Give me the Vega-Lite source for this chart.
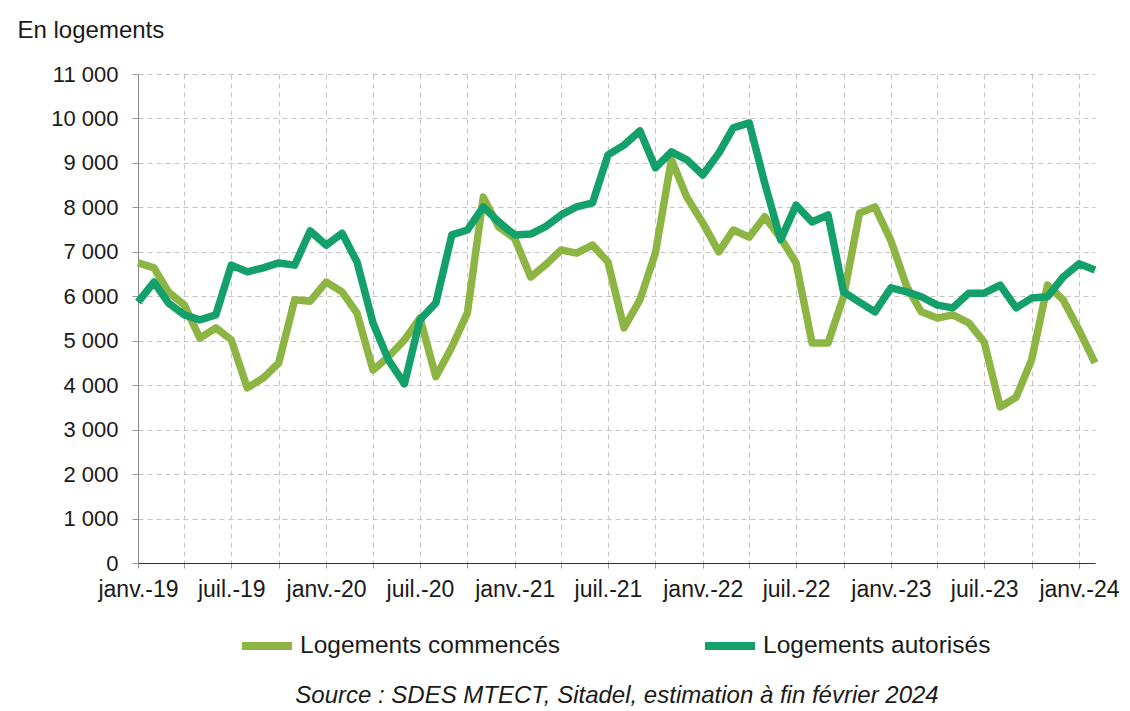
{
  "$schema": "https://vega.github.io/schema/vega-lite/v6.json",
  "width": 957,
  "height": 489,
  "autosize": "none",
  "padding": {"left": 138, "top": 74, "right": 35, "bottom": 148},
  "background": "white",
  "config": {
    "font": "Liberation Sans",
    "view": {"stroke": null},
    "axis": {"labelFont": "Liberation Sans", "titleFont": "Liberation Sans", "labelColor": "#1a1a1a", "titleColor": "#1a1a1a"}
  },
  "data": {
    "values": [
      {"date": "2019-01-01", "serie": "Logements commencés", "value": 6750},
      {"date": "2019-02-01", "serie": "Logements commencés", "value": 6640},
      {"date": "2019-03-01", "serie": "Logements commencés", "value": 6100},
      {"date": "2019-04-01", "serie": "Logements commencés", "value": 5800},
      {"date": "2019-05-01", "serie": "Logements commencés", "value": 5060},
      {"date": "2019-06-01", "serie": "Logements commencés", "value": 5290},
      {"date": "2019-07-01", "serie": "Logements commencés", "value": 5020},
      {"date": "2019-08-01", "serie": "Logements commencés", "value": 3940},
      {"date": "2019-09-01", "serie": "Logements commencés", "value": 4160},
      {"date": "2019-10-01", "serie": "Logements commencés", "value": 4500},
      {"date": "2019-11-01", "serie": "Logements commencés", "value": 5920},
      {"date": "2019-12-01", "serie": "Logements commencés", "value": 5890},
      {"date": "2020-01-01", "serie": "Logements commencés", "value": 6320},
      {"date": "2020-02-01", "serie": "Logements commencés", "value": 6100},
      {"date": "2020-03-01", "serie": "Logements commencés", "value": 5620},
      {"date": "2020-04-01", "serie": "Logements commencés", "value": 4340},
      {"date": "2020-05-01", "serie": "Logements commencés", "value": 4640},
      {"date": "2020-06-01", "serie": "Logements commencés", "value": 5020},
      {"date": "2020-07-01", "serie": "Logements commencés", "value": 5510},
      {"date": "2020-08-01", "serie": "Logements commencés", "value": 4190},
      {"date": "2020-09-01", "serie": "Logements commencés", "value": 4860},
      {"date": "2020-10-01", "serie": "Logements commencés", "value": 5620},
      {"date": "2020-11-01", "serie": "Logements commencés", "value": 8230},
      {"date": "2020-12-01", "serie": "Logements commencés", "value": 7560},
      {"date": "2021-01-01", "serie": "Logements commencés", "value": 7300},
      {"date": "2021-02-01", "serie": "Logements commencés", "value": 6430},
      {"date": "2021-03-01", "serie": "Logements commencés", "value": 6700},
      {"date": "2021-04-01", "serie": "Logements commencés", "value": 7040},
      {"date": "2021-05-01", "serie": "Logements commencés", "value": 6970},
      {"date": "2021-06-01", "serie": "Logements commencés", "value": 7150},
      {"date": "2021-07-01", "serie": "Logements commencés", "value": 6770},
      {"date": "2021-08-01", "serie": "Logements commencés", "value": 5290},
      {"date": "2021-09-01", "serie": "Logements commencés", "value": 5920},
      {"date": "2021-10-01", "serie": "Logements commencés", "value": 6970},
      {"date": "2021-11-01", "serie": "Logements commencés", "value": 9070},
      {"date": "2021-12-01", "serie": "Logements commencés", "value": 8230},
      {"date": "2022-01-01", "serie": "Logements commencés", "value": 7650},
      {"date": "2022-02-01", "serie": "Logements commencés", "value": 7000},
      {"date": "2022-03-01", "serie": "Logements commencés", "value": 7490},
      {"date": "2022-04-01", "serie": "Logements commencés", "value": 7330},
      {"date": "2022-05-01", "serie": "Logements commencés", "value": 7790},
      {"date": "2022-06-01", "serie": "Logements commencés", "value": 7310},
      {"date": "2022-07-01", "serie": "Logements commencés", "value": 6750},
      {"date": "2022-08-01", "serie": "Logements commencés", "value": 4950},
      {"date": "2022-09-01", "serie": "Logements commencés", "value": 4950},
      {"date": "2022-10-01", "serie": "Logements commencés", "value": 5990},
      {"date": "2022-11-01", "serie": "Logements commencés", "value": 7870},
      {"date": "2022-12-01", "serie": "Logements commencés", "value": 8010},
      {"date": "2023-01-01", "serie": "Logements commencés", "value": 7250},
      {"date": "2023-02-01", "serie": "Logements commencés", "value": 6210},
      {"date": "2023-03-01", "serie": "Logements commencés", "value": 5650},
      {"date": "2023-04-01", "serie": "Logements commencés", "value": 5510},
      {"date": "2023-05-01", "serie": "Logements commencés", "value": 5580},
      {"date": "2023-06-01", "serie": "Logements commencés", "value": 5400},
      {"date": "2023-07-01", "serie": "Logements commencés", "value": 4970},
      {"date": "2023-08-01", "serie": "Logements commencés", "value": 3510},
      {"date": "2023-09-01", "serie": "Logements commencés", "value": 3730},
      {"date": "2023-10-01", "serie": "Logements commencés", "value": 4570},
      {"date": "2023-11-01", "serie": "Logements commencés", "value": 6250},
      {"date": "2023-12-01", "serie": "Logements commencés", "value": 5920},
      {"date": "2024-01-01", "serie": "Logements commencés", "value": 5240},
      {"date": "2024-02-01", "serie": "Logements commencés", "value": 4500},
      {"date": "2019-01-01", "serie": "Logements autorisés", "value": 5870},
      {"date": "2019-02-01", "serie": "Logements autorisés", "value": 6320},
      {"date": "2019-03-01", "serie": "Logements autorisés", "value": 5850},
      {"date": "2019-04-01", "serie": "Logements autorisés", "value": 5580},
      {"date": "2019-05-01", "serie": "Logements autorisés", "value": 5470},
      {"date": "2019-06-01", "serie": "Logements autorisés", "value": 5580},
      {"date": "2019-07-01", "serie": "Logements autorisés", "value": 6700},
      {"date": "2019-08-01", "serie": "Logements autorisés", "value": 6550},
      {"date": "2019-09-01", "serie": "Logements autorisés", "value": 6640},
      {"date": "2019-10-01", "serie": "Logements autorisés", "value": 6750},
      {"date": "2019-11-01", "serie": "Logements autorisés", "value": 6700},
      {"date": "2019-12-01", "serie": "Logements autorisés", "value": 7470},
      {"date": "2020-01-01", "serie": "Logements autorisés", "value": 7150},
      {"date": "2020-02-01", "serie": "Logements autorisés", "value": 7420},
      {"date": "2020-03-01", "serie": "Logements autorisés", "value": 6770},
      {"date": "2020-04-01", "serie": "Logements autorisés", "value": 5400},
      {"date": "2020-05-01", "serie": "Logements autorisés", "value": 4570},
      {"date": "2020-06-01", "serie": "Logements autorisés", "value": 4030},
      {"date": "2020-07-01", "serie": "Logements autorisés", "value": 5470},
      {"date": "2020-08-01", "serie": "Logements autorisés", "value": 5850},
      {"date": "2020-09-01", "serie": "Logements autorisés", "value": 7380},
      {"date": "2020-10-01", "serie": "Logements autorisés", "value": 7490},
      {"date": "2020-11-01", "serie": "Logements autorisés", "value": 8010},
      {"date": "2020-12-01", "serie": "Logements autorisés", "value": 7670},
      {"date": "2021-01-01", "serie": "Logements autorisés", "value": 7380},
      {"date": "2021-02-01", "serie": "Logements autorisés", "value": 7400},
      {"date": "2021-03-01", "serie": "Logements autorisés", "value": 7560},
      {"date": "2021-04-01", "serie": "Logements autorisés", "value": 7830},
      {"date": "2021-05-01", "serie": "Logements autorisés", "value": 8010},
      {"date": "2021-06-01", "serie": "Logements autorisés", "value": 8100},
      {"date": "2021-07-01", "serie": "Logements autorisés", "value": 9180},
      {"date": "2021-08-01", "serie": "Logements autorisés", "value": 9400},
      {"date": "2021-09-01", "serie": "Logements autorisés", "value": 9720},
      {"date": "2021-10-01", "serie": "Logements autorisés", "value": 8890},
      {"date": "2021-11-01", "serie": "Logements autorisés", "value": 9250},
      {"date": "2021-12-01", "serie": "Logements autorisés", "value": 9070},
      {"date": "2022-01-01", "serie": "Logements autorisés", "value": 8730},
      {"date": "2022-02-01", "serie": "Logements autorisés", "value": 9220},
      {"date": "2022-03-01", "serie": "Logements autorisés", "value": 9790},
      {"date": "2022-04-01", "serie": "Logements autorisés", "value": 9900},
      {"date": "2022-05-01", "serie": "Logements autorisés", "value": 8550},
      {"date": "2022-06-01", "serie": "Logements autorisés", "value": 7270},
      {"date": "2022-07-01", "serie": "Logements autorisés", "value": 8050},
      {"date": "2022-08-01", "serie": "Logements autorisés", "value": 7670},
      {"date": "2022-09-01", "serie": "Logements autorisés", "value": 7830},
      {"date": "2022-10-01", "serie": "Logements autorisés", "value": 6100},
      {"date": "2022-11-01", "serie": "Logements autorisés", "value": 5870},
      {"date": "2022-12-01", "serie": "Logements autorisés", "value": 5650},
      {"date": "2023-01-01", "serie": "Logements autorisés", "value": 6190},
      {"date": "2023-02-01", "serie": "Logements autorisés", "value": 6100},
      {"date": "2023-03-01", "serie": "Logements autorisés", "value": 5990},
      {"date": "2023-04-01", "serie": "Logements autorisés", "value": 5800},
      {"date": "2023-05-01", "serie": "Logements autorisés", "value": 5740},
      {"date": "2023-06-01", "serie": "Logements autorisés", "value": 6070},
      {"date": "2023-07-01", "serie": "Logements autorisés", "value": 6070},
      {"date": "2023-08-01", "serie": "Logements autorisés", "value": 6250},
      {"date": "2023-09-01", "serie": "Logements autorisés", "value": 5740},
      {"date": "2023-10-01", "serie": "Logements autorisés", "value": 5960},
      {"date": "2023-11-01", "serie": "Logements autorisés", "value": 5990},
      {"date": "2023-12-01", "serie": "Logements autorisés", "value": 6430},
      {"date": "2024-01-01", "serie": "Logements autorisés", "value": 6730},
      {"date": "2024-02-01", "serie": "Logements autorisés", "value": 6590}
    ]
  },
  "encoding": {
    "x": {
      "field": "date",
      "type": "temporal",
      "scale": {"type": "utc", "domain": ["2019-01-01", "2024-02-01"], "nice": false},
      "axis": {
        "tickCount": {"interval": "month", "step": 3},
        "labelExpr": "utcmonth(datum.value) == 0 ? 'janv.-' + utcFormat(datum.value, '%y') : (utcmonth(datum.value) == 6 ? 'juil.-' + utcFormat(datum.value, '%y') : '')",
        "labelOverlap": false,
        "labelBound": false,
        "labelFlush": false,
        "labelFontSize": 23,
        "labelPadding": 10,
        "tickSize": 5,
        "tickColor": "#999999",
        "domainColor": "#333333",
        "domainWidth": 1.2,
        "grid": true,
        "gridColor": "#c4c4c4",
        "gridDash": [5, 4],
        "gridWidth": 1,
        "title": "Source : SDES MTECT, Sitadel, estimation à fin février 2024",
        "titleFontSize": 24,
        "titleFontStyle": "italic",
        "titleFontWeight": "normal",
        "titleY": 132,
        "titleBaseline": "middle"
      }
    },
    "y": {
      "field": "value",
      "type": "quantitative",
      "scale": {"domain": [0, 11000], "nice": false},
      "axis": {
        "values": [0, 1000, 2000, 3000, 4000, 5000, 6000, 7000, 8000, 9000, 10000, 11000],
        "labelExpr": "replace(format(datum.value, ',d'), ',', ' ')",
        "labelFontSize": 22,
        "labelPadding": 14,
        "tickSize": 6,
        "tickColor": "#999999",
        "domainColor": "#888888",
        "grid": true,
        "gridColor": "#c4c4c4",
        "gridDash": [5, 4],
        "gridWidth": 1,
        "title": "En logements",
        "titleAngle": 0,
        "titleAlign": "left",
        "titleBaseline": "middle",
        "titleX": -121,
        "titleY": -44,
        "titleFontSize": 24,
        "titleFontWeight": "normal"
      }
    },
    "color": {
      "field": "serie",
      "type": "nominal",
      "scale": {"domain": ["Logements commencés", "Logements autorisés"], "range": ["#8db543", "#14a06b"]},
      "legend": {
        "title": null,
        "orient": "none",
        "direction": "horizontal",
        "legendX": 100,
        "legendY": 543,
        "padding": 0,
        "symbolType": "stroke",
        "symbolSize": 2500,
        "symbolStrokeWidth": 8,
        "labelFontSize": 24.5,
        "labelOffset": 4,
        "labelLimit": 500,
        "labelColor": "#1a1a1a",
        "columnPadding": 128
      }
    }
  },
  "layer": [
    {
      "transform": [{"filter": "datum.serie == 'Logements commencés'"}],
      "mark": {"type": "line", "strokeWidth": 7.5, "strokeJoin": "round"}
    },
    {
      "transform": [{"filter": "datum.serie == 'Logements autorisés'"}],
      "mark": {"type": "line", "strokeWidth": 7.5, "strokeJoin": "round"}
    }
  ]
}
